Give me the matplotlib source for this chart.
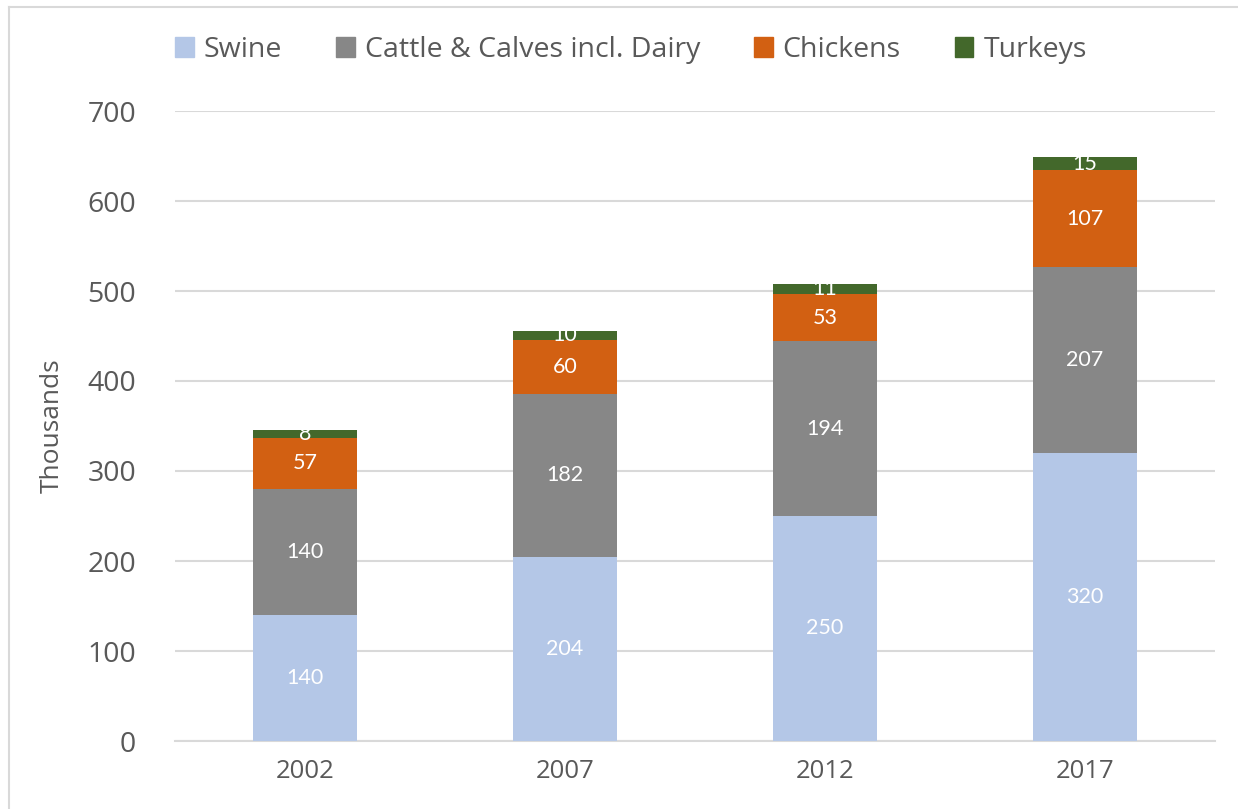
import matplotlib
matplotlib.use("Agg")
import matplotlib.pyplot as plt
from matplotlib.lines import Line2D
from matplotlib.patches import Patch
import numpy as np

years = ["2002", "2007", "2012", "2017"]
swine = [140, 204, 250, 320]
cattle = [140, 182, 194, 207]
chickens = [57, 60, 53, 107]
turkeys = [8, 10, 11, 15]

series_names = ["Swine", "Cattle & Calves incl. Dairy", "Chickens", "Turkeys"]
series_colors = ["#B4C7E7", "#878787", "#D26012", "#43682B"]

plt.rcParams["font.family"] = ["Open Sans", "DejaVu Sans"]
txt_color = "#595959"
grid_color = "#D9D9D9"

fig = plt.figure(figsize=(12.38, 8.09), dpi=100)
ax = fig.add_axes([175 / 1238, 1 - 741 / 809, 1040 / 1238, 630 / 809])

x = np.arange(len(years))
bottom = np.zeros(len(years))
for name, vals, col in zip(series_names, [swine, cattle, chickens, turkeys], series_colors):
    vals = np.array(vals, dtype=float)
    ax.bar(x, vals, width=0.4, bottom=bottom, color=col, zorder=3)
    for xi, b, v in zip(x, bottom, vals):
        ax.text(xi, b + v / 2, f"{v:.0f}", ha="center", va="center",
                color="white", fontsize=15.5, family=["Lato", "DejaVu Sans"], zorder=4)
    bottom += vals

ax.set_xlim(-0.5, 3.5)
ax.set_ylim(0, 700)
ax.set_yticks(range(0, 701, 100))
ax.set_xticks(x)
ax.set_xticklabels(years)
ax.tick_params(axis="y", length=0, labelsize=20.5, colors=txt_color, pad=28)
ax.tick_params(axis="x", length=0, labelsize=18.5, colors=txt_color, pad=13)
ax.grid(axis="y", color=grid_color, linewidth=1.5, zorder=0)
for s in ["top", "right", "left"]:
    ax.spines[s].set_visible(False)
ax.spines["bottom"].set_color(grid_color)
ax.spines["bottom"].set_linewidth(1.5)
ax.set_ylabel("Thousands", fontsize=19, color=txt_color, labelpad=16)

handles = [Patch(facecolor=c, edgecolor=c) for c in series_colors]
leg = fig.legend(handles, series_names, loc="center", bbox_to_anchor=(631 / 1238, 1 - 50 / 809),
                 ncol=4, frameon=False, fontsize=20.5, handlelength=0.65, handleheight=0.65,
                 handletextpad=0.35, columnspacing=1.9)
for t in leg.get_texts():
    t.set_color(txt_color)

# chart frame (only left/top visible in screenshot)
fig.add_artist(Line2D([9 / 1238, 9 / 1238], [0, 1 - 7 / 809], transform=fig.transFigure,
                      color=grid_color, linewidth=1.5))
fig.add_artist(Line2D([9 / 1238, 1], [1 - 7 / 809, 1 - 7 / 809], transform=fig.transFigure,
                      color=grid_color, linewidth=1.5))

fig.savefig("out.png", dpi=100)
